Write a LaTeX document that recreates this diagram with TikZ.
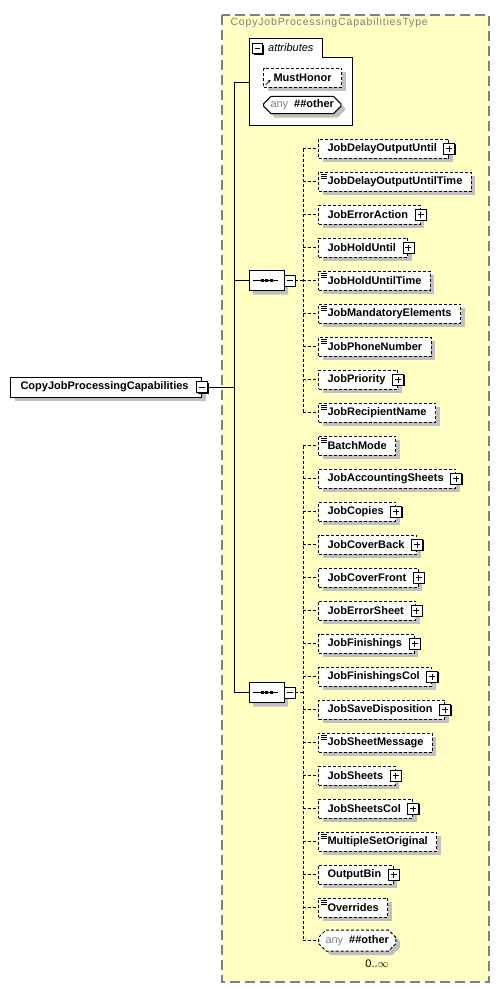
\documentclass[tikz,border=0pt]{standalone}
\usepackage{fontspec}
\setmainfont{Liberation Sans}
\newfontfamily\titlefont[LetterSpace=8]{Liberation Sans}
\usepackage{tikz}
\usetikzlibrary{positioning, shapes.misc, shadows, arrows.meta}
\definecolor{typebg}{HTML}{FFFFC4}
\definecolor{typeline}{HTML}{808080}
\definecolor{shadowgray}{HTML}{C0C0C0}

\begin{document}
\begin{tikzpicture}[x=1pt, y=-1pt, font=\fontsize{11}{13}\selectfont\bfseries,
  shadowed/.style={drop shadow={shadow xshift=4pt, shadow yshift=-4pt, fill=shadowgray, opacity=1}},
  typebox/.style={fill=typebg, draw=typeline, line width=1.5pt, dash pattern=on 10pt off 5pt},
  link/.style={line width=1pt},
  optlink/.style={line width=1pt, dash pattern=on 3pt off 2pt},
  topelem/.style={draw, line width=1pt, fill=white, shadowed, anchor=west, minimum height=20pt, inner xsep=10pt, inner ysep=0pt},
  elem/.style={draw, line width=1pt, dash pattern=on 3pt off 2pt, fill=white, shadowed, anchor=west, minimum height=19pt, inner xsep=9pt, inner ysep=0pt},
  anyelem/.style={chamfered rectangle, chamfered rectangle xsep=4pt, draw, line width=1pt, fill=white, shadowed, anchor=west, minimum height=19pt, inner xsep=3pt, inner ysep=0pt},
  expandbox/.style={draw, solid, line width=0.8pt, fill=white, minimum size=11pt, inner sep=0pt,
    drop shadow={shadow xshift=1pt, shadow yshift=-1pt, fill=black, opacity=1},
    path picture={\draw[line width=0.8pt] ([xshift=2.5pt]path picture bounding box.west) -- ([xshift=-2.5pt]path picture bounding box.east)
      ([yshift=-2.5pt]path picture bounding box.north) -- ([yshift=2.5pt]path picture bounding box.south);}},
  collapsebox/.style={draw, solid, line width=0.8pt, fill=white, minimum size=11pt, inner sep=0pt,
    drop shadow={shadow xshift=1pt, shadow yshift=-1pt, fill=black, opacity=1},
    path picture={\draw[line width=0.8pt] ([xshift=2.5pt]path picture bounding box.west) -- ([xshift=-2.5pt]path picture bounding box.east);}},
  cplx/.style={append after command={\pgfextra{\global\let\boxnode\tikzlastnode} node[expandbox] at (\boxnode.east) {}}},
  leaf/.style={path picture={\draw[line width=0.7pt, solid]
      ([shift={(2pt,-2.5pt)}]path picture bounding box.north west) -- ++(6pt,0)
      ([shift={(2pt,-4.5pt)}]path picture bounding box.north west) -- ++(6pt,0)
      ([shift={(2pt,-6.5pt)}]path picture bounding box.north west) -- ++(6pt,0);}},
  seq/.style={chamfered rectangle, chamfered rectangle sep=5pt, draw, line width=1pt, fill=white, shadowed, minimum width=35pt, minimum height=20pt, inner sep=0pt,
    path picture={\draw[line width=1pt] ([xshift=4pt]path picture bounding box.west) -- ([xshift=-6pt]path picture bounding box.east);
      \fill[black] ([shift={(-6pt,-1.5pt)}]path picture bounding box.center) rectangle ++(3pt,3pt);
      \fill[black] ([shift={(-1.5pt,-1.5pt)}]path picture bounding box.center) rectangle ++(3pt,3pt);
      \fill[black] ([shift={(3pt,-1.5pt)}]path picture bounding box.center) rectangle ++(3pt,3pt);}}]

\useasboundingbox (0,0) rectangle (500,988);

% complex type box
\draw[typebox] (222,15) rectangle (489,982);
\node[anchor=west, text=typeline, font=\fontsize{10.5}{12}\titlefont] (typename) at (227,23) {CopyJobProcessingCapabilitiesType};

% root element
\node[topelem] (CopyJob) at (10,387) {CopyJobProcessingCapabilities\kern3pt};
\node[collapsebox] (CopyJobOpen) at (CopyJob.east) {};

% attributes
\draw[line width=1pt, fill=white] (249,38) -- (322,38) -- (322,57) -- (352,57) -- (352,125) -- (249,125) -- cycle;
\coordinate (attrs) at (249,82);
\node[collapsebox, minimum size=10pt] (attrsOpen) at (257.5,48.5) {};
\node[anchor=west, inner sep=1pt, font=\fontsize{11}{13}\selectfont\itshape] (attrsLabel) at (267,47.5) {attributes};
\node[elem, inner xsep=10pt, path picture={\draw[-{Stealth[length=2.5pt,width=3pt]}, line width=0.7pt, solid]
    ([shift={(2pt,2pt)}]path picture bounding box.south west) -- ++(5pt,5pt);}] (MustHonor) at (263,77.5) {MustHonor};
\node[anyelem, solid, minimum height=17pt] (anyAttr) at (263,105) {{\mdseries\color{gray}any}\hspace{6pt}\#\#other};

% compositors
\node[seq] (seqA) at (266.5,280.5) {};
\node[collapsebox] (seqAOpen) at ([xshift=5pt]seqA.east) {};
\node[seq] (seqB) at (266.5,692.5) {};
\node[collapsebox] (seqBOpen) at ([xshift=5pt]seqB.east) {};

% first sequence
\node[elem, cplx] (JobDelayOutputUntil) at (318,148.5) {JobDelayOutputUntil\kern3pt};
\node[elem, leaf] (JobDelayOutputUntilTime) at (318,181.5) {JobDelayOutputUntilTime};
\node[elem, cplx] (JobErrorAction) at (318,214.5) {JobErrorAction\kern3pt};
\node[elem, cplx] (JobHoldUntil) at (318,247.5) {JobHoldUntil\kern3pt};
\node[elem, leaf] (JobHoldUntilTime) at (318,280.5) {JobHoldUntilTime};
\node[elem, leaf] (JobMandatoryElements) at (318,313.5) {JobMandatoryElements};
\node[elem, leaf] (JobPhoneNumber) at (318,346.5) {JobPhoneNumber};
\node[elem, cplx] (JobPriority) at (318,379.5) {JobPriority\kern3pt};
\node[elem, leaf] (JobRecipientName) at (318,412.5) {JobRecipientName};

% second sequence
\node[elem, leaf] (BatchMode) at (318,445.5) {BatchMode};
\node[elem, cplx] (JobAccountingSheets) at (318,478.5) {JobAccountingSheets\kern3pt};
\node[elem, cplx] (JobCopies) at (318,511.5) {JobCopies\kern3pt};
\node[elem, cplx] (JobCoverBack) at (318,544.5) {JobCoverBack\kern3pt};
\node[elem, cplx] (JobCoverFront) at (318,577.5) {JobCoverFront\kern3pt};
\node[elem, cplx] (JobErrorSheet) at (318,610.5) {JobErrorSheet\kern3pt};
\node[elem, cplx] (JobFinishings) at (318,643.5) {JobFinishings\kern3pt};
\node[elem, cplx] (JobFinishingsCol) at (318,676.5) {JobFinishingsCol\kern3pt};
\node[elem, cplx] (JobSaveDisposition) at (318,709.5) {JobSaveDisposition\kern3pt};
\node[elem, leaf] (JobSheetMessage) at (318,742.5) {JobSheetMessage};
\node[elem, cplx] (JobSheets) at (318,775.5) {JobSheets\kern3pt};
\node[elem, cplx] (JobSheetsCol) at (318,808.5) {JobSheetsCol\kern3pt};
\node[elem, leaf] (MultipleSetOriginal) at (318,841.5) {MultipleSetOriginal};
\node[elem, cplx] (OutputBin) at (318,874.5) {OutputBin\kern3pt};
\node[elem, leaf] (Overrides) at (318,907.5) {Overrides};
\node[anyelem, dash pattern=on 3pt off 2pt, minimum height=21pt] (anyElem) at (318,940.5) {{\mdseries\color{gray}any}\hspace{6pt}\#\#other};
\node[font=\fontsize{11}{13}\selectfont\mdseries, inner sep=1pt] (anyElemCount) at (377,964) {0..$\infty$};

% connectors
\coordinate (trunk) at (234,82);
\draw[link] (CopyJobOpen.east) -- (trunk |- CopyJobOpen);
\draw[link] (attrs) -- (trunk) -- (trunk |- seqB) -- (seqB.west);
\draw[link] (trunk |- seqA) -- (seqA.west);

\coordinate (barA) at (303,148.5);
\draw[optlink] (seqAOpen.east) -- (barA |- seqAOpen);
\draw[optlink] (barA) -- (barA |- JobRecipientName);
\draw[optlink] (barA) -- (JobDelayOutputUntil.west);
\draw[optlink] (barA |- JobDelayOutputUntilTime) -- (JobDelayOutputUntilTime.west);
\draw[optlink] (barA |- JobErrorAction) -- (JobErrorAction.west);
\draw[optlink] (barA |- JobHoldUntil) -- (JobHoldUntil.west);
\draw[optlink] (barA |- JobHoldUntilTime) -- (JobHoldUntilTime.west);
\draw[optlink] (barA |- JobMandatoryElements) -- (JobMandatoryElements.west);
\draw[optlink] (barA |- JobPhoneNumber) -- (JobPhoneNumber.west);
\draw[optlink] (barA |- JobPriority) -- (JobPriority.west);
\draw[optlink] (barA |- JobRecipientName) -- (JobRecipientName.west);

\coordinate (barB) at (303,445.5);
\draw[optlink] (seqBOpen.east) -- (barB |- seqBOpen);
\draw[optlink] (barB) -- (barB |- anyElem);
\draw[optlink] (barB) -- (BatchMode.west);
\draw[optlink] (barB |- JobAccountingSheets) -- (JobAccountingSheets.west);
\draw[optlink] (barB |- JobCopies) -- (JobCopies.west);
\draw[optlink] (barB |- JobCoverBack) -- (JobCoverBack.west);
\draw[optlink] (barB |- JobCoverFront) -- (JobCoverFront.west);
\draw[optlink] (barB |- JobErrorSheet) -- (JobErrorSheet.west);
\draw[optlink] (barB |- JobFinishings) -- (JobFinishings.west);
\draw[optlink] (barB |- JobFinishingsCol) -- (JobFinishingsCol.west);
\draw[optlink] (barB |- JobSaveDisposition) -- (JobSaveDisposition.west);
\draw[optlink] (barB |- JobSheetMessage) -- (JobSheetMessage.west);
\draw[optlink] (barB |- JobSheets) -- (JobSheets.west);
\draw[optlink] (barB |- JobSheetsCol) -- (JobSheetsCol.west);
\draw[optlink] (barB |- MultipleSetOriginal) -- (MultipleSetOriginal.west);
\draw[optlink] (barB |- OutputBin) -- (OutputBin.west);
\draw[optlink] (barB |- Overrides) -- (Overrides.west);
\draw[optlink] (barB |- anyElem) -- (anyElem.west);
\end{tikzpicture}
\end{document}
